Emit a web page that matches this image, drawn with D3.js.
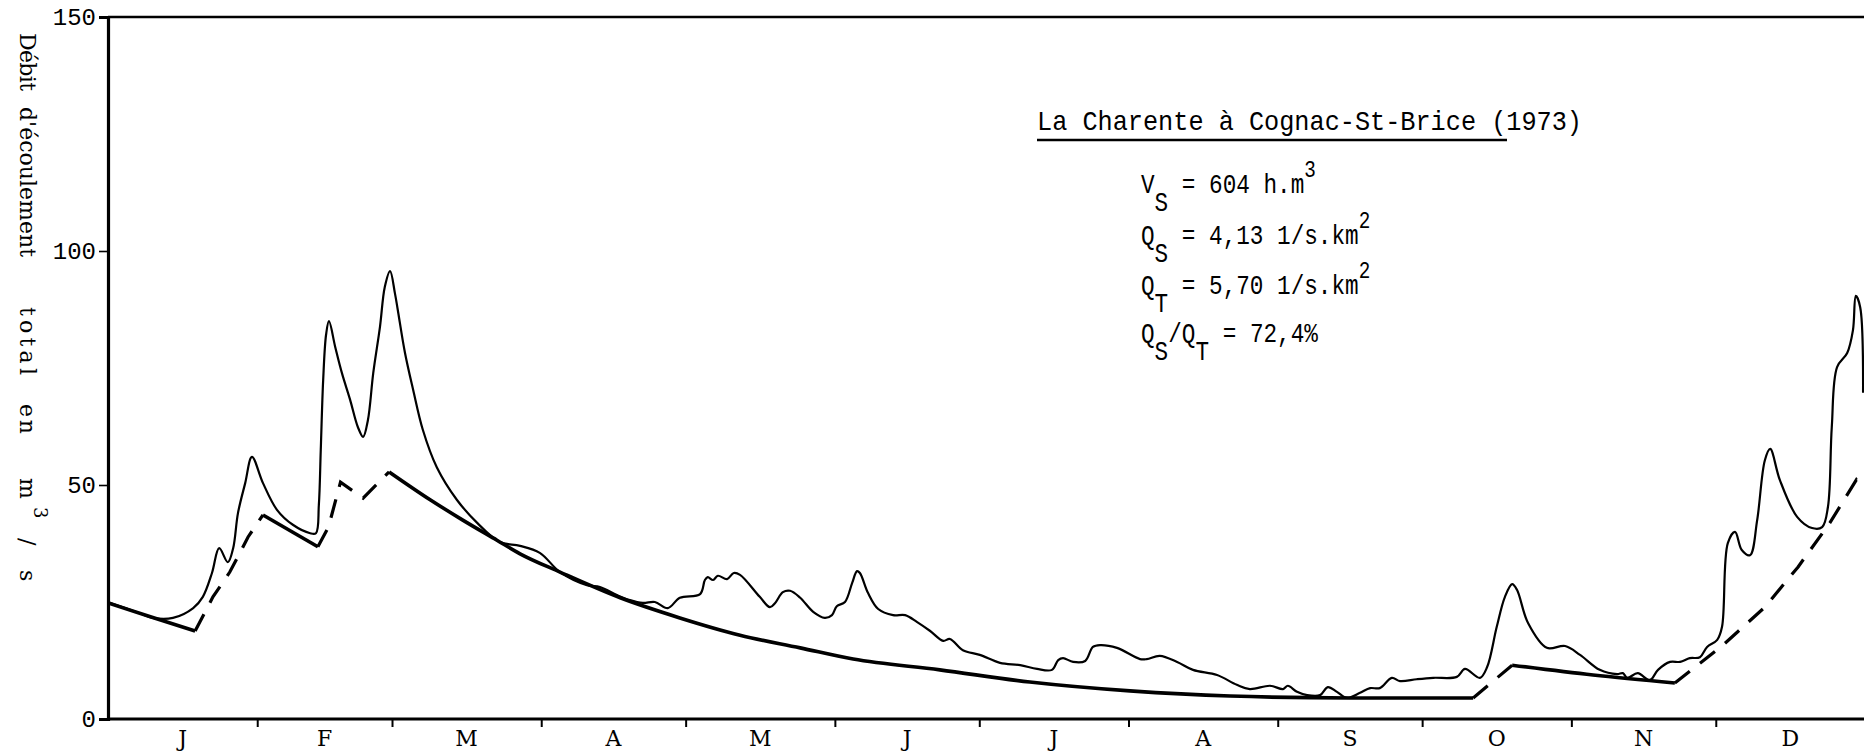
<!DOCTYPE html>
<html><head><meta charset="utf-8">
<script src="https://cdn.jsdelivr.net/npm/d3@7"></script>
<style>
html,body{margin:0;padding:0;background:#fff;}
svg{display:block;}
text{fill:#000;}
</style></head>
<body>
<svg id="c" width="1864" height="753"></svg>
<script>
// ---- data ----
const monthStarts = [0,31,59,90,120,151,181,212,243,273,304,334,365];
const monthLabels = ["J","F","M","A","M","J","J","A","S","O","N","D"];
const yTicks = [0,50,100,150];

// total flow (day of year, m3/s)
const flowDays = [0,6.6,9.3,13.5,17.7,19.7,21.6,23.1,24.9,26.0,27.0,28.5,29.9,32.2,35.1,38.4,42.0,43.2,43.8,44.2,44.7,45.3,45.9,47.2,48.6,50.3,51.9,53.0,54.0,55.1,56.5,57.5,58.6,59.6,60.2,61.7,63.4,65.4,68.3,72.5,76.7,81.4,85.6,89.7,93.9,99.5,102.2,105.7,108.4,111.1,113.6,116.3,118.8,123.0,124.0,124.6,125.7,126.7,128.6,130.0,131.3,135.4,137.5,138.6,140.2,141.7,143.8,146.5,148.9,150.4,151.4,153.1,154.6,155.6,156.2,157.9,160.0,163.1,165.6,168.1,170.8,173.5,174.9,177.6,181.1,185.3,189.5,193.0,196.1,197.4,198.4,200.5,203.0,204.6,206.1,209.6,214.4,215.8,218.5,222.1,225.4,230.4,234.5,237.2,241.4,244.1,245.1,247.0,249.1,251.8,253.4,255.3,257.4,260.1,262.2,264.2,266.7,268.4,271.9,275.3,280.2,281.9,285.0,286.5,288.5,290.2,291.7,292.7,295.0,298.9,302.7,305.8,309.9,313.5,314.7,315.6,317.8,320.3,322.0,324.5,326.6,328.6,330.7,332.2,334.3,335.3,336.5,338.0,339.4,341.1,342.6,344.2,345.3,347.3,350.9,354.0,356.1,357.3,358.1,359.2,361.3,362.5,363.1,364.0,364.6];
const flowValues = [25.0,22.6,21.6,21.6,23.7,26.1,31.2,36.5,33.5,36.5,44.0,50.4,56.0,50.4,44.7,41.5,39.7,39.7,45.7,57.5,72.4,82.1,85.0,79.5,73.9,68.2,62.4,60.3,63.9,73.9,83.8,92.3,95.7,91.0,87.4,78.2,70.3,61.8,53.8,46.8,41.9,37.8,37.0,35.5,31.4,28.6,28.2,26.5,25.4,24.8,25.0,23.7,25.9,26.7,29.7,30.3,29.7,30.6,29.9,31.2,30.8,26.1,23.9,24.8,27.1,27.4,25.9,22.9,21.6,22.2,24.1,25.0,29.1,31.6,31.2,26.9,23.5,22.2,22.2,20.7,18.8,16.7,17.1,14.7,13.7,12.0,11.5,10.7,10.5,12.6,13.0,12.2,12.4,15.4,15.8,15.2,12.8,12.8,13.5,12.2,10.5,9.4,7.3,6.4,7.1,6.4,7.1,5.8,5.1,5.1,6.8,5.8,4.5,5.6,6.6,6.6,8.8,8.1,8.5,8.8,9.0,10.7,8.8,11.1,19.7,26.1,28.8,27.6,20.5,15.2,15.6,13.7,10.5,9.6,9.8,8.8,9.8,8.3,10.5,12.2,12.2,13.0,13.2,15.4,16.9,19.7,37.6,40.0,36.1,35.0,42.5,55.3,57.7,51.1,43.2,40.8,41.0,45.3,62.4,75.2,78.2,83.1,90.4,88.0,69.7];

// base flow (day, m3/s) — solid and dashed pieces
const baseJanSolid   = [[0,24.8],[9.3,21.7],[18.1,18.8]];
const baseJanDash    = [[18.1,18.8],[21.8,26.1],[25.3,31.4],[27.4,35.5],[29.1,38.9],[32.2,43.6]];
const baseFebSolid   = [[32.2,43.6],[43.6,36.8]];
const baseFebDash    = [[43.6,36.8],[45.8,41.0],[48.3,50.6],[53.0,47.2],[58.4,52.8]];
const baseRecession  = [[58.4,52.8],[67.0,46.8],[73.7,42.5],[80.8,38.2],[85.6,35.3],[93.9,31.4],[106.4,25.9],[118.8,21.6],[131.3,17.9],[143.8,15.2],[154.8,12.8],[172.8,10.5],[191.5,7.9],[212.3,6.0],[233.1,4.9],[258.0,4.5],[283.6,4.5]];
const baseOctDash    = [[283.6,4.5],[291.7,11.5]];
const baseOctSolid   = [[291.7,11.5],[308.5,9.4],[325.5,7.7]];
const baseDecDash    = [[325.5,7.7],[335.5,15.8],[344.2,23.9],[351.1,32.5],[357.7,41.9],[363.2,51.1],[364.8,48.9]];

const solidPieces = [baseJanSolid, baseFebSolid, baseRecession, baseOctSolid];
const dashedPieces = [baseJanDash, baseFebDash, baseOctDash, baseDecDash];

// ---- drawing ----
const MONO = '"Liberation Mono","DejaVu Sans Mono",monospace';
const SERIF = '"DejaVu Serif","Liberation Serif",serif';
const svg = d3.select("#c");
const x = d3.scaleLinear().domain([0,365]).range([108,1865]);
const y = d3.scaleLinear().domain([0,150]).range([719,17]);

// frame: top line, left axis, bottom axis
svg.append("line").attr("x1",x(0)).attr("x2",1864).attr("y1",y(150)).attr("y2",y(150))
  .attr("stroke","#000").attr("stroke-width",2.6);

const yAxis = d3.axisLeft(y).tickValues(yTicks).tickSize(9).tickPadding(3).tickFormat(d3.format("d"));
const gy = svg.append("g").attr("transform",`translate(${x(0)},0)`).call(yAxis);
gy.select(".domain").attr("stroke","#000").attr("stroke-width",3.2);
gy.selectAll(".tick line").attr("stroke","#000").attr("stroke-width",1.6);
gy.selectAll(".tick text").style("font-family",MONO).style("font-size","24px").attr("fill","#000");

const xAxis = d3.axisBottom(x).tickValues(monthStarts.slice(1,12)).tickSize(8).tickFormat("");
const gx = svg.append("g").attr("transform",`translate(0,${y(0)})`).call(xAxis);
gx.select(".domain").attr("d",`M${x(0)},0H1864`).attr("stroke","#000").attr("stroke-width",3.2);
gx.selectAll(".tick line").attr("stroke","#000").attr("stroke-width",2);

svg.append("g").selectAll("text").data(monthLabels).join("text")
  .attr("x",(d,i)=>x((monthStarts[i]+monthStarts[i+1])/2))
  .attr("y",746).attr("text-anchor","middle").style("font-family",SERIF).style("font-size","22px").text(d=>d);

// y axis title (rotated, reads top to bottom)
const yt = svg.append("text").attr("transform","translate(20,0) rotate(90)")
  .style("font-family",SERIF).style("font-size","22px");
const titleWords = [["Débit",33,58],["d'écoulement",107,150],["total",307,68],["en",404,30]];
titleWords.forEach(([w,p,len])=>yt.append("tspan").attr("x",p).attr("y",0)
  .attr("textLength",len).attr("lengthAdjust","spacing").text(w));
yt.append("tspan").attr("x",478).attr("y",0).text("m");
yt.append("tspan").attr("x",507).attr("y",-14).style("font-size","18px").text("3");
yt.append("tspan").attr("x",538).attr("y",0).text("/");
yt.append("tspan").attr("x",570).attr("y",0).text("s");

// curves
const line = d3.line().x(d=>x(d[0])).y(d=>y(d[1]));
const flowPts = flowDays.map((d,i)=>[d,flowValues[i]]);
svg.append("path").attr("d",line.curve(d3.curveCatmullRom.alpha(0.5))(flowPts))
  .attr("fill","none").attr("stroke","#000").attr("stroke-width",2.2).attr("stroke-linejoin","round");

const baseLine = d3.line().x(d=>x(d[0])).y(d=>y(d[1])).curve(d3.curveMonotoneX);
solidPieces.forEach(p=>svg.append("path").attr("d",baseLine(p)).attr("fill","none")
  .attr("stroke","#000").attr("stroke-width",3.6).attr("stroke-linejoin","round"));
dashedPieces.forEach(p=>svg.append("path").attr("d",d3.line().x(d=>x(d[0])).y(d=>y(d[1]))(p)).attr("fill","none")
  .attr("stroke","#000").attr("stroke-width",3.2).attr("stroke-dasharray","19,13"));

// annotation block
const ann = svg.append("g").style("font-family",MONO);
ann.append("text").attr("x",1037).attr("y",130).style("font-size","28px")
  .attr("textLength",545).attr("lengthAdjust","spacingAndGlyphs").text("La Charente à Cognac-St-Brice (1973)");
ann.append("line").attr("x1",1037).attr("x2",1507).attr("y1",140).attr("y2",140).attr("stroke","#000").attr("stroke-width",2.4);

function formula(yb, parts){
  const t = ann.append("text").attr("transform",`translate(1141,${yb}) scale(0.84,1)`).attr("x",0).attr("y",0).style("font-size","27px");
  parts.forEach(([s,kind])=>{
    const sp = t.append("tspan").text(s);
    if(kind==="sub") sp.attr("dy",18);
    else if(kind==="back") sp.attr("dy",-18);
    else if(kind==="sup") sp.attr("dy",-16).style("font-size","23px");
  });
}
formula(193,[["V",""],["S","sub"],[" = 604 h.m","back"],["3","sup"]]);
formula(244,[["Q",""],["S","sub"],[" = 4,13 1/s.km","back"],["2","sup"]]);
formula(294,[["Q",""],["T","sub"],[" = 5,70 1/s.km","back"],["2","sup"]]);
formula(342,[["Q",""],["S","sub"],["/Q","back"],["T","sub"],[" = 72,4%","back"]]);
</script>
</body></html>
